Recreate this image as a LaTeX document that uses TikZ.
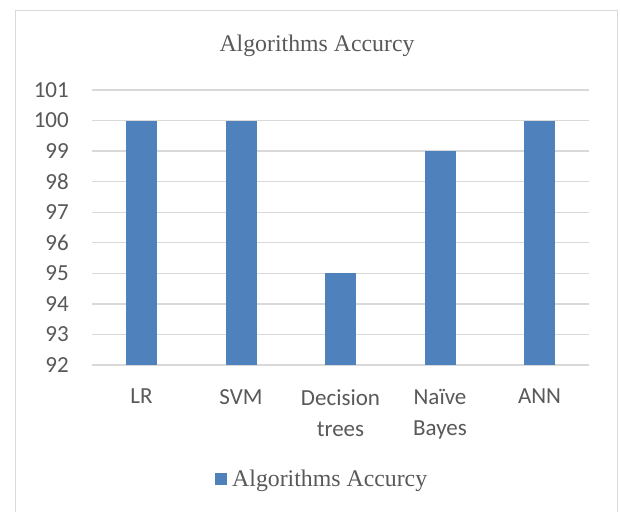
\documentclass[tikz,border=0pt]{standalone}
\usepackage{fontspec}
\setmainfont{Liberation Serif}
\newfontfamily\calfont{Carlito}
\definecolor{barblue}{HTML}{4F81BD}
\definecolor{gridgray}{HTML}{D9D9D9}
\definecolor{txtgray}{HTML}{595959}
\begin{document}
\begin{tikzpicture}[x=1pt,y=-1pt,
  gridline/.style={draw=gridgray,line width=1.3pt},
  framebox/.style={draw=gridgray,line width=1.6pt},
  ylab/.style={anchor=east,inner sep=0pt,text=txtgray,font=\calfont\fontsize{23}{28}\selectfont},
  xlab/.style={anchor=north,inner sep=0pt,text=txtgray,align=center,font=\calfont\fontsize{23}{31}\selectfont},
  bar/.style={fill=barblue},
  serift/.style={text=txtgray,inner sep=0pt,font=\fontsize{23.8}{28}\selectfont}]
\useasboundingbox (0,0) rectangle (620,511);
\fill[white] (0,0) rectangle (620,511);
\draw[framebox] (15.5,512) -- (15.5,10.5) -- (617.5,10.5) -- (617.5,512);
% title
\node[serift,anchor=base] (title) at (317,52) {Algorithms Accurcy};
% gridlines and y labels
\foreach \v [count=\i from 0] in {92,...,101}{
  \pgfmathsetmacro{\yy}{365-\i*30.56}
  \draw[gridline] (92,\yy) -- (589,\yy);
  \node[ylab] (y\v) at (69,\yy) {\v};
}
% bars
\foreach \c/\val/\nm in {141.5/100/lr,241/100/svm,340.5/95/dt,440/99/nb,539.5/100/ann}{
  \pgfmathsetmacro{\top}{365-(\val-92)*30.56}
  \fill[bar] (\c-15.5,365) rectangle (\c+15.5,\top);
  \coordinate (\nm) at (\c,365);
}
% category labels
\node[xlab] (lLR) at (141.5,389) {LR};
\node[xlab] (lSVM) at (241,389) {SVM};
\node[xlab] (lDT) at (340.5,389) {Decision\\trees};
\node[xlab] (lNB) at (440,389) {Naïve\\Bayes};
\node[xlab] (lANN) at (539.5,389) {ANN};
% legend
\fill[bar] (215,473) rectangle (226.5,484.5);
\node[serift,anchor=base west] (leg) at (232,486) {Algorithms Accurcy};
\end{tikzpicture}
\end{document}
